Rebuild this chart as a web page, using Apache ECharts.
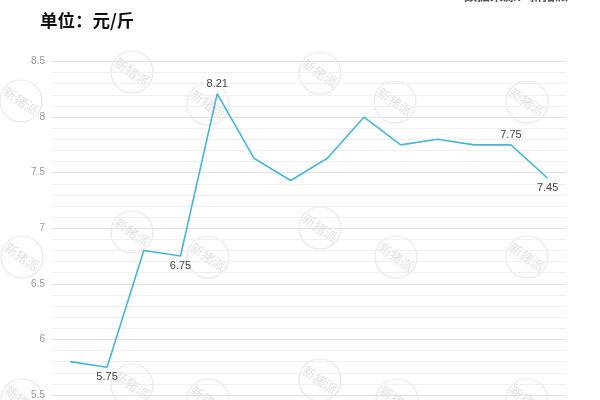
<!DOCTYPE html>
<html>
<head>
<meta charset="utf-8">
<script src="https://cdn.jsdelivr.net/npm/echarts@6/dist/echarts.min.js"></script>
<style>html,body{margin:0;padding:0;background:#fff;}#c{width:600px;height:400px;}</style>
</head>
<body>
<div id="c"></div>
<script>
// Data (x labels are cut off in the reference)
const categories = ['1','2','3','4','5','6','7','8','9','10','11','12','13','14'];
const prices = [5.80, 5.75, 6.80, 6.75, 8.21, 7.63, 7.43, 7.63, 8.00, 7.75, 7.80, 7.75, 7.75, 7.45];
const yTicks = [5.5, 6, 6.5, 7, 7.5, 8, 8.5];
const titleText = '单位：元/斤';
const sourceText = '数据来源：新猪派';
const watermarkText = '新猪派';

// which points carry a value label, and where
const labelPos = {1: 'bottom', 3: 'bottom', 4: 'top', 12: 'top', 13: 'bottom'};

const seriesData = prices.map((v, i) => labelPos[i]
  ? {value: v, label: {show: true, position: labelPos[i]}}
  : v);

// watermark stamps (decoration)
const stamps = [[132,72],[320,73],[21,101],[208,104],[395,102],[527,102],
  [132,232],[320,228],[22,257],[208,257],[396,257],[527,257],
  [132,385],[320,380],[22,400],[208,400],[397,400],[527,400]];
const graphics = [];
stamps.forEach(([x, y]) => {
  graphics.push({type: 'circle', shape: {cx: x, cy: y, r: 21}, style: {fill: 'none', stroke: '#e8e8e8', lineWidth: 1.2}, silent: true, z: 0});
  graphics.push({type: 'text', x: x, y: y, rotation: -0.6,
    style: {text: watermarkText, fill: '#e2e2e2', font: '13px "Noto Sans CJK SC"', align: 'center', verticalAlign: 'middle'}, silent: true, z: 0});
});
graphics.push({type: 'text', x: 40, y: 20, style: {text: titleText, fill: '#111', font: 'bold 17.5px "Noto Sans CJK SC"', verticalAlign: 'middle'}, z: 10});
graphics.push({type: 'text', x: 568, y: 2, style: {text: sourceText, fill: '#555', font: 'bold 13px "Noto Sans CJK SC"', align: 'right', verticalAlign: 'bottom'}, z: 10});

const chart = echarts.init(document.getElementById('c'), null, {renderer: 'canvas'});
chart.setOption({
  animation: false,
  backgroundColor: '#fff',
  graphic: graphics,
  grid: {left: 52, right: 34, top: 61.5, bottom: 3.5},
  xAxis: {
    type: 'category',
    data: categories,
    boundaryGap: true,
    axisLine: {show: false},
    axisTick: {show: false},
    axisLabel: {show: false}
  },
  yAxis: {
    type: 'value',
    min: yTicks[0],
    max: yTicks[yTicks.length - 1],
    interval: 0.5,
    axisLine: {show: false},
    axisTick: {show: false},
    axisLabel: {color: '#999', fontSize: 10, margin: 7, fontFamily: 'Liberation Sans'},
    splitLine: {lineStyle: {color: '#e3e3e3', width: 1}},
    minorTick: {show: false, splitNumber: 5},
    minorSplitLine: {show: true, lineStyle: {color: '#f0f0f0', width: 1}}
  },
  series: [{
    type: 'line',
    data: seriesData,
    symbol: 'circle',
    symbolSize: 0.1,
    showSymbol: true,
    lineStyle: {color: '#47b6da', width: 1.6},
    itemStyle: {color: '#47b6da'},
    label: {show: false, color: '#444', fontSize: 11, fontFamily: 'Liberation Sans', distance: 4},
    z: 5
  }]
});
</script>
</body>
</html>
